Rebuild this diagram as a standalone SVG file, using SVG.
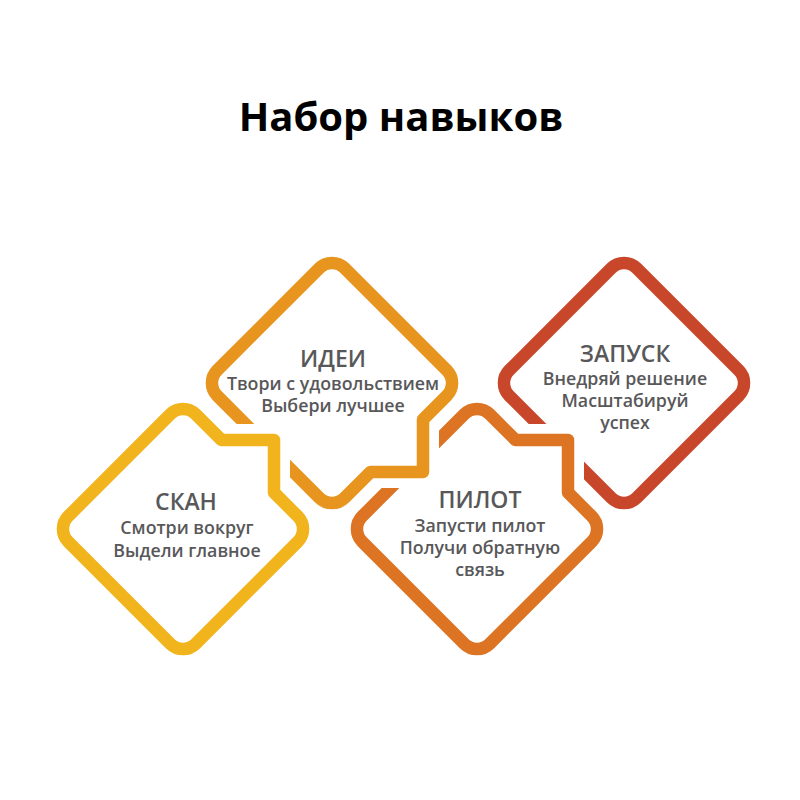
<svg xmlns="http://www.w3.org/2000/svg" width="800" height="800" viewBox="0 0 800 800">
<style>
.halo{fill:none;stroke:#ffffff;stroke-width:32;stroke-linejoin:round}
.frame{fill:none;stroke-width:12.5;stroke-linejoin:round}
.title{font-family:"Open Sans","Liberation Sans",sans-serif;font-weight:700;font-size:40px;fill:#000;text-anchor:middle}
.head{font-family:"Open Sans","Liberation Sans",sans-serif;font-weight:600;font-size:23px;fill:#58585a;text-anchor:middle}
.sub{font-family:"Open Sans","Liberation Sans",sans-serif;font-weight:600;font-size:17.8px;fill:#58585a;text-anchor:middle}
</style>
<rect width="800" height="800" fill="#ffffff"/>
<text class="title" x="401" y="131">Набор навыков</text>
<g id="zapusk">
<path class="halo" d="M611.27,268.23 A18,18 0 0 1 636.73,268.23 L738.77,370.27 A18,18 0 0 1 738.77,395.73 L636.73,497.77 A18,18 0 0 1 611.27,497.77 L509.23,395.73 A18,18 0 0 1 509.23,370.27 Z"/>
<path class="frame" stroke="#c8472b" d="M611.27,268.23 A18,18 0 0 1 636.73,268.23 L738.77,370.27 A18,18 0 0 1 738.77,395.73 L636.73,497.77 A18,18 0 0 1 611.27,497.77 L509.23,395.73 A18,18 0 0 1 509.23,370.27 Z"/>
<text class="head" x="625" y="362">ЗАПУСК</text>
<text class="sub" x="625" y="385">Внедряй решение</text>
<text class="sub" x="625" y="407">Масштабируй</text>
<text class="sub" x="625" y="429">успех</text>
</g>
<g id="pilot">
<path class="halo" d="M464.27,414.23 A18,18 0 0 1 489.73,414.23 L515.5,440 L568,440 L568,492.5 L591.77,516.27 A18,18 0 0 1 591.77,541.73 L489.73,643.77 A18,18 0 0 1 464.27,643.77 L362.23,541.73 A18,18 0 0 1 362.23,516.27 Z"/>
<path class="frame" stroke="#dd7424" d="M464.27,414.23 A18,18 0 0 1 489.73,414.23 L515.5,440 L568,440 L568,492.5 L591.77,516.27 A18,18 0 0 1 591.77,541.73 L489.73,643.77 A18,18 0 0 1 464.27,643.77 L362.23,541.73 A18,18 0 0 1 362.23,516.27 Z"/>
<text class="head" x="480" y="508">ПИЛОТ</text>
<text class="sub" x="480" y="532">Запусти пилот</text>
<text class="sub" x="480" y="554">Получи обратную</text>
<text class="sub" x="480" y="576">связь</text>
</g>
<g id="idei">
<path class="halo" d="M319.27,268.23 A18,18 0 0 1 344.73,268.23 L446.77,370.27 A18,18 0 0 1 446.77,395.73 L423,419.5 L423,472 L370.5,472 L344.73,497.77 A18,18 0 0 1 319.27,497.77 L217.23,395.73 A18,18 0 0 1 217.23,370.27 Z"/>
<path class="frame" stroke="#e8951f" d="M319.27,268.23 A18,18 0 0 1 344.73,268.23 L446.77,370.27 A18,18 0 0 1 446.77,395.73 L423,419.5 L423,472 L370.5,472 L344.73,497.77 A18,18 0 0 1 319.27,497.77 L217.23,395.73 A18,18 0 0 1 217.23,370.27 Z"/>
<text class="head" x="333" y="367">ИДЕИ</text>
<text class="sub" x="333" y="390">Твори с удовольствием</text>
<text class="sub" x="333" y="412">Выбери лучшее</text>
</g>
<g id="skan">
<path class="halo" d="M170.27,414.23 A18,18 0 0 1 195.73,414.23 L221.5,440 L274,440 L274,492.5 L297.77,516.27 A18,18 0 0 1 297.77,541.73 L195.73,643.77 A18,18 0 0 1 170.27,643.77 L68.23,541.73 A18,18 0 0 1 68.23,516.27 Z"/>
<path class="frame" stroke="#f2b41c" d="M170.27,414.23 A18,18 0 0 1 195.73,414.23 L221.5,440 L274,440 L274,492.5 L297.77,516.27 A18,18 0 0 1 297.77,541.73 L195.73,643.77 A18,18 0 0 1 170.27,643.77 L68.23,541.73 A18,18 0 0 1 68.23,516.27 Z"/>
<text class="head" x="186" y="510">СКАН</text>
<text class="sub" x="187" y="534">Смотри вокруг</text>
<text class="sub" x="187" y="557">Выдели главное</text>
</g>
</svg>
